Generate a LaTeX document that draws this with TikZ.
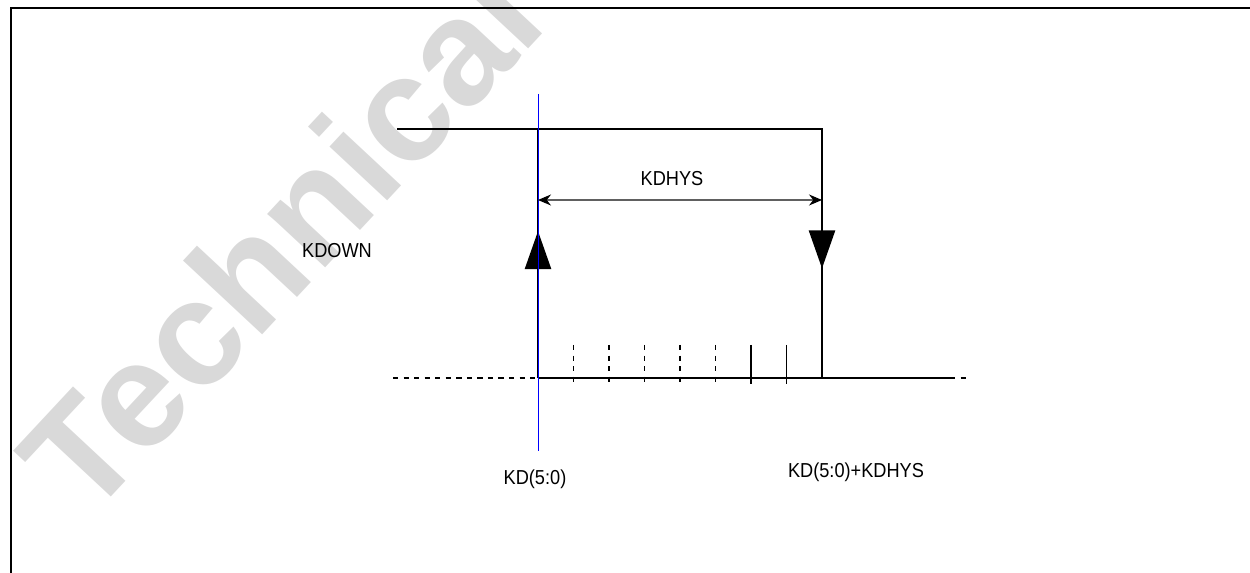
\documentclass[tikz,border=0pt]{standalone}
\usepackage{fontspec}
\setmainfont{Liberation Sans}
\usetikzlibrary{arrows.meta, decorations.markings}

\tikzset{
  sig/.style={line width=1.4pt, line join=miter},
  lbl/.style={font=\fontsize{11.5}{13}\selectfont, xscale=0.9, inner sep=0pt},
  tipat/.style={postaction={decorate}, decoration={markings,
      mark=at position #1 with {\arrow{Triangle[length=0.76cm, width=0.52cm]}}}},
  watermark/.style={text=gray!30, font=\fontsize{85}{85}\selectfont\bfseries, inner sep=0pt}
}

\begin{document}
\begin{tikzpicture}[x=0.02cm, y=-0.02cm]
\useasboundingbox (0,0) rectangle (1250,573);

% Watermark
\node[watermark, rotate=47] (wm) at (280,238) {Technical};

% Frame
\draw[line width=1.1pt] (1250,8) -- (11,8) -- (11,573);

% Hysteresis loop
\coordinate (hiL) at (397,129);
\coordinate (hiR) at (822,129);
\coordinate (loR) at (822,378);
\coordinate (loL) at (538,378);
\coordinate (upL) at (538,129);
\coordinate (endR) at (950,378);

\draw[sig] (hiL) -- (hiR) -- (loR);
\draw[sig, tipat=0.56] (hiR) -- (loR);
\draw[sig, tipat=0.59] (loL) -- (upL);
\draw[sig] (loL) -- (endR);
\draw[dashed, line width=0.6pt] (393,378) -- (loL);
\draw[dashed, line width=0.6pt] (endR) -- (966,378);

% Threshold steps
\foreach \k in {1,...,5}
  \draw[dashed, line width=0.7pt] (538+35.5*\k,345) -- (538+35.5*\k,382);
\foreach \k in {6,7}
  \draw[line width=0.7pt] (538+35.5*\k,345) -- (538+35.5*\k,384);

% KD marker
\draw[blue, line width=0.5pt] (538,94) -- (538,451);

% Hysteresis width
\coordinate (dimL) at (538,200);
\coordinate (dimR) at (822,200);
\draw[gray!75!black, line width=0.6pt, {Stealth[black, length=0.26cm, width=0.22cm]}-{Stealth[black, length=0.26cm, width=0.22cm]}] (dimL) -- (dimR);
\node[lbl] (kdhys) at (672,179) {KDHYS};

% Labels
\node[lbl] (kdown) at (337,251) {KDOWN};
\node[lbl] (kd) at (535,479) {KD(5:0)};
\node[lbl] (kdsum) at (856,472) {KD(5:0)+KDHYS};
\end{tikzpicture}
\end{document}
